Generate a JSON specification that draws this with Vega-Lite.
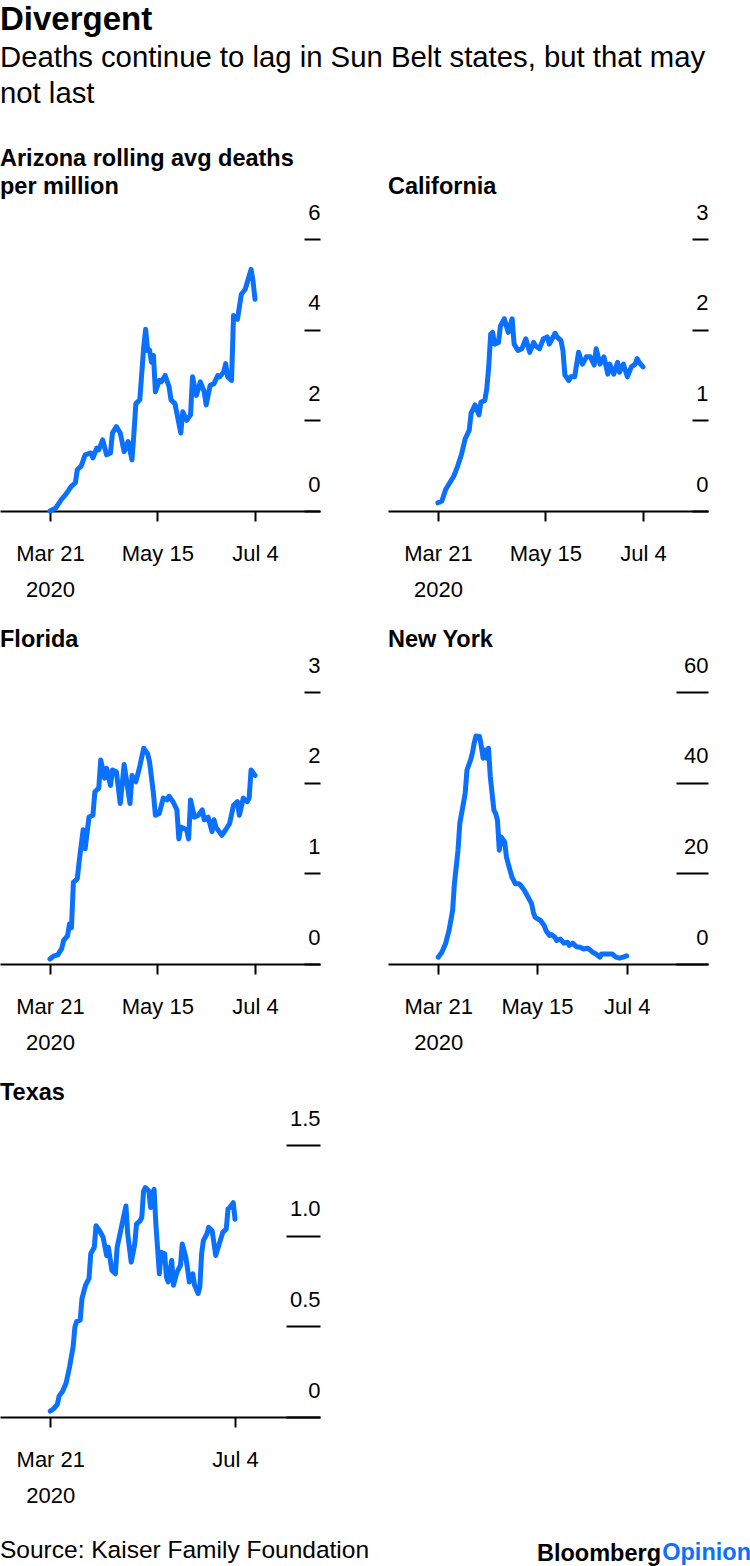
{
  "$schema": "https://vega.github.io/schema/vega-lite/v6.json",
  "padding": {"left": 0, "right": 0, "top": 4, "bottom": 4},
  "background": "white",
  "title": {
    "text": "Divergent",
    "subtitle": ["Deaths continue to lag in Sun Belt states, but that may", "not last"],
    "anchor": "start",
    "font": "Liberation Sans",
    "fontSize": 33,
    "fontWeight": "bold",
    "color": "#000",
    "subtitleFont": "Liberation Sans",
    "subtitleFontSize": 29.3,
    "subtitleColor": "#000",
    "subtitleLineHeight": 36,
    "subtitlePadding": 7,
    "offset": 37
  },
  "datasets": {
    "AZ": [
      {"d":"2020-03-21","v":0},{"d":"2020-03-24","v":0.07},{"d":"2020-03-27","v":0.26},{"d":"2020-03-29","v":0.36},
      {"d":"2020-04-01","v":0.55},{"d":"2020-04-03","v":0.62},{"d":"2020-04-04","v":0.91},{"d":"2020-04-06","v":0.99},
      {"d":"2020-04-08","v":1.24},{"d":"2020-04-11","v":1.28},{"d":"2020-04-12","v":1.17},{"d":"2020-04-14","v":1.39},
      {"d":"2020-04-15","v":1.35},{"d":"2020-04-17","v":1.57},{"d":"2020-04-19","v":1.24},{"d":"2020-04-21","v":1.28},
      {"d":"2020-04-22","v":1.72},{"d":"2020-04-24","v":1.86},{"d":"2020-04-26","v":1.72},{"d":"2020-04-28","v":1.31},
      {"d":"2020-04-30","v":1.53},{"d":"2020-05-02","v":1.13},{"d":"2020-05-03","v":1.72},{"d":"2020-05-04","v":2.37},
      {"d":"2020-05-06","v":2.45},{"d":"2020-05-08","v":3.61},{"d":"2020-05-09","v":4.01},{"d":"2020-05-10","v":3.54},
      {"d":"2020-05-11","v":3.55},{"d":"2020-05-12","v":3.28},{"d":"2020-05-13","v":3.43},{"d":"2020-05-14","v":2.63},
      {"d":"2020-05-16","v":2.88},{"d":"2020-05-17","v":2.85},{"d":"2020-05-19","v":2.99},{"d":"2020-05-21","v":2.74},
      {"d":"2020-05-22","v":2.45},{"d":"2020-05-24","v":2.37},{"d":"2020-05-27","v":1.72},{"d":"2020-05-28","v":2.19},
      {"d":"2020-05-30","v":2.0},{"d":"2020-06-01","v":2.12},{"d":"2020-06-02","v":2.96},{"d":"2020-06-04","v":2.55},
      {"d":"2020-06-06","v":2.85},{"d":"2020-06-08","v":2.63},{"d":"2020-06-09","v":2.34},{"d":"2020-06-11","v":2.77},
      {"d":"2020-06-13","v":2.81},{"d":"2020-06-15","v":2.99},{"d":"2020-06-16","v":2.96},{"d":"2020-06-18","v":3.07},
      {"d":"2020-06-19","v":3.25},{"d":"2020-06-20","v":2.96},{"d":"2020-06-22","v":2.88},{"d":"2020-06-23","v":4.31},
      {"d":"2020-06-25","v":4.23},{"d":"2020-06-27","v":4.78},{"d":"2020-06-29","v":4.89},{"d":"2020-07-02","v":5.33},
      {"d":"2020-07-03","v":5.07},{"d":"2020-07-04","v":4.67}
    ],
    "CA": [
      {"d":"2020-03-21","v":0.09},{"d":"2020-03-23","v":0.11},{"d":"2020-03-25","v":0.24},{"d":"2020-03-29","v":0.38},
      {"d":"2020-03-31","v":0.49},{"d":"2020-04-02","v":0.62},{"d":"2020-04-04","v":0.80},{"d":"2020-04-06","v":0.89},
      {"d":"2020-04-07","v":1.08},{"d":"2020-04-09","v":1.17},{"d":"2020-04-11","v":1.06},{"d":"2020-04-12","v":1.20},
      {"d":"2020-04-14","v":1.22},{"d":"2020-04-15","v":1.35},{"d":"2020-04-16","v":1.59},{"d":"2020-04-17","v":1.95},
      {"d":"2020-04-18","v":1.97},{"d":"2020-04-19","v":1.84},{"d":"2020-04-21","v":1.86},{"d":"2020-04-22","v":2.04},
      {"d":"2020-04-24","v":2.12},{"d":"2020-04-26","v":1.97},{"d":"2020-04-28","v":2.12},{"d":"2020-04-29","v":1.84},
      {"d":"2020-05-01","v":1.77},{"d":"2020-05-03","v":1.79},{"d":"2020-05-05","v":1.90},{"d":"2020-05-07","v":1.75},
      {"d":"2020-05-09","v":1.86},{"d":"2020-05-10","v":1.82},{"d":"2020-05-12","v":1.79},{"d":"2020-05-14","v":1.90},
      {"d":"2020-05-16","v":1.92},{"d":"2020-05-17","v":1.84},{"d":"2020-05-20","v":1.96},{"d":"2020-05-21","v":1.92},
      {"d":"2020-05-23","v":1.88},{"d":"2020-05-24","v":1.77},{"d":"2020-05-25","v":1.50},{"d":"2020-05-27","v":1.44},
      {"d":"2020-05-28","v":1.48},{"d":"2020-05-30","v":1.48},{"d":"2020-06-01","v":1.75},{"d":"2020-06-03","v":1.62},
      {"d":"2020-06-05","v":1.70},{"d":"2020-06-07","v":1.70},{"d":"2020-06-09","v":1.61},{"d":"2020-06-10","v":1.79},
      {"d":"2020-06-12","v":1.62},{"d":"2020-06-14","v":1.70},{"d":"2020-06-16","v":1.51},{"d":"2020-06-17","v":1.62},
      {"d":"2020-06-19","v":1.51},{"d":"2020-06-21","v":1.64},{"d":"2020-06-22","v":1.53},{"d":"2020-06-24","v":1.62},
      {"d":"2020-06-26","v":1.48},{"d":"2020-06-28","v":1.59},{"d":"2020-06-30","v":1.62},{"d":"2020-07-01","v":1.68},
      {"d":"2020-07-02","v":1.64},{"d":"2020-07-04","v":1.59}
    ],
    "FL": [
      {"d":"2020-03-21","v":0.055},{"d":"2020-03-23","v":0.09},{"d":"2020-03-25","v":0.10},{"d":"2020-03-27","v":0.17},
      {"d":"2020-03-28","v":0.26},{"d":"2020-03-30","v":0.31},{"d":"2020-03-31","v":0.44},{"d":"2020-04-01","v":0.40},
      {"d":"2020-04-02","v":0.90},{"d":"2020-04-04","v":0.94},{"d":"2020-04-05","v":1.14},{"d":"2020-04-07","v":1.48},
      {"d":"2020-04-08","v":1.27},{"d":"2020-04-10","v":1.62},{"d":"2020-04-12","v":1.64},{"d":"2020-04-13","v":1.90},
      {"d":"2020-04-15","v":1.94},{"d":"2020-04-16","v":2.25},{"d":"2020-04-18","v":2.05},{"d":"2020-04-19","v":2.16},
      {"d":"2020-04-21","v":1.97},{"d":"2020-04-22","v":2.14},{"d":"2020-04-24","v":2.12},{"d":"2020-04-26","v":1.77},
      {"d":"2020-04-28","v":2.20},{"d":"2020-05-01","v":1.77},{"d":"2020-05-02","v":2.08},{"d":"2020-05-04","v":2.01},
      {"d":"2020-05-06","v":2.18},{"d":"2020-05-08","v":2.38},{"d":"2020-05-10","v":2.32},{"d":"2020-05-11","v":2.23},
      {"d":"2020-05-13","v":1.88},{"d":"2020-05-14","v":1.64},{"d":"2020-05-16","v":1.66},{"d":"2020-05-18","v":1.83},
      {"d":"2020-05-20","v":1.81},{"d":"2020-05-21","v":1.85},{"d":"2020-05-23","v":1.79},{"d":"2020-05-25","v":1.70},
      {"d":"2020-05-26","v":1.38},{"d":"2020-05-27","v":1.51},{"d":"2020-05-30","v":1.48},{"d":"2020-05-31","v":1.38},
      {"d":"2020-06-01","v":1.81},{"d":"2020-06-03","v":1.62},{"d":"2020-06-05","v":1.64},{"d":"2020-06-07","v":1.70},
      {"d":"2020-06-08","v":1.59},{"d":"2020-06-10","v":1.62},{"d":"2020-06-12","v":1.46},{"d":"2020-06-13","v":1.59},
      {"d":"2020-06-14","v":1.51},{"d":"2020-06-17","v":1.42},{"d":"2020-06-19","v":1.48},{"d":"2020-06-21","v":1.55},
      {"d":"2020-06-23","v":1.75},{"d":"2020-06-25","v":1.79},{"d":"2020-06-26","v":1.64},{"d":"2020-06-28","v":1.83},
      {"d":"2020-06-30","v":1.79},{"d":"2020-07-01","v":1.83},{"d":"2020-07-02","v":2.14},{"d":"2020-07-04","v":2.08}
    ],
    "NY": [
      {"d":"2020-03-21","v":1.5},{"d":"2020-03-23","v":2.6},{"d":"2020-03-25","v":4.4},{"d":"2020-03-27","v":7.4},
      {"d":"2020-03-29","v":11.8},{"d":"2020-03-30","v":17.7},{"d":"2020-04-01","v":25.1},{"d":"2020-04-02","v":31.0},
      {"d":"2020-04-03","v":33.2},{"d":"2020-04-05","v":37.6},{"d":"2020-04-06","v":42.8},{"d":"2020-04-08","v":45.0},
      {"d":"2020-04-09","v":46.5},{"d":"2020-04-10","v":48.7},{"d":"2020-04-11","v":50.3},{"d":"2020-04-13","v":50.2},
      {"d":"2020-04-14","v":48.0},{"d":"2020-04-15","v":45.4},{"d":"2020-04-16","v":47.2},{"d":"2020-04-17","v":45.4},
      {"d":"2020-04-18","v":47.6},{"d":"2020-04-19","v":41.3},{"d":"2020-04-20","v":37.6},{"d":"2020-04-21","v":33.9},
      {"d":"2020-04-22","v":33.2},{"d":"2020-04-23","v":31.7},{"d":"2020-04-24","v":25.1},{"d":"2020-04-25","v":28.0},
      {"d":"2020-04-27","v":26.9},{"d":"2020-04-28","v":23.6},{"d":"2020-04-29","v":22.1},{"d":"2020-05-01","v":19.2},
      {"d":"2020-05-03","v":17.7},{"d":"2020-05-05","v":17.7},{"d":"2020-05-06","v":17.3},{"d":"2020-05-08","v":16.2},
      {"d":"2020-05-10","v":14.8},{"d":"2020-05-12","v":13.3},{"d":"2020-05-13","v":11.4},{"d":"2020-05-14","v":10.3},
      {"d":"2020-05-17","v":9.6},{"d":"2020-05-19","v":8.5},{"d":"2020-05-20","v":7.4},{"d":"2020-05-22","v":6.3},
      {"d":"2020-05-23","v":6.5},{"d":"2020-05-25","v":5.9},{"d":"2020-05-26","v":5.2},{"d":"2020-05-28","v":5.5},
      {"d":"2020-05-30","v":4.6},{"d":"2020-06-01","v":4.8},{"d":"2020-06-02","v":4.1},{"d":"2020-06-04","v":4.6},
      {"d":"2020-06-06","v":3.8},{"d":"2020-06-08","v":3.7},{"d":"2020-06-10","v":3.3},{"d":"2020-06-12","v":3.5},
      {"d":"2020-06-14","v":3.0},{"d":"2020-06-15","v":2.6},{"d":"2020-06-17","v":2.2},{"d":"2020-06-19","v":1.5},
      {"d":"2020-06-20","v":2.2},{"d":"2020-06-23","v":2.2},{"d":"2020-06-26","v":2.2},{"d":"2020-06-28","v":1.5},
      {"d":"2020-06-30","v":1.3},{"d":"2020-07-02","v":1.5},{"d":"2020-07-04","v":1.8}
    ],
    "TX": [
      {"d":"2020-03-21","v":0.033},{"d":"2020-03-23","v":0.046},{"d":"2020-03-25","v":0.069},{"d":"2020-03-26","v":0.115},
      {"d":"2020-03-28","v":0.142},{"d":"2020-03-30","v":0.188},{"d":"2020-04-01","v":0.279},{"d":"2020-04-03","v":0.389},
      {"d":"2020-04-04","v":0.498},{"d":"2020-04-05","v":0.526},{"d":"2020-04-07","v":0.535},{"d":"2020-04-08","v":0.653},
      {"d":"2020-04-10","v":0.726},{"d":"2020-04-11","v":0.745},{"d":"2020-04-12","v":0.763},{"d":"2020-04-13","v":0.9},
      {"d":"2020-04-15","v":0.936},{"d":"2020-04-16","v":1.055},{"d":"2020-04-18","v":1.027},{"d":"2020-04-20","v":0.991},
      {"d":"2020-04-22","v":0.891},{"d":"2020-04-23","v":0.936},{"d":"2020-04-25","v":0.808},{"d":"2020-04-27","v":0.790},
      {"d":"2020-04-28","v":0.936},{"d":"2020-04-30","v":1.027},{"d":"2020-05-02","v":1.119},{"d":"2020-05-03","v":1.164},
      {"d":"2020-05-04","v":1.009},{"d":"2020-05-06","v":0.854},{"d":"2020-05-08","v":0.954},{"d":"2020-05-09","v":1.064},
      {"d":"2020-05-11","v":1.082},{"d":"2020-05-12","v":1.100},{"d":"2020-05-13","v":1.246},{"d":"2020-05-14","v":1.265},
      {"d":"2020-05-16","v":1.246},{"d":"2020-05-17","v":1.155},{"d":"2020-05-18","v":1.228},{"d":"2020-05-19","v":1.255},
      {"d":"2020-05-20","v":1.064},{"d":"2020-05-22","v":0.790},{"d":"2020-05-23","v":0.909},{"d":"2020-05-25","v":0.9},
      {"d":"2020-05-26","v":0.772},{"d":"2020-05-27","v":0.745},{"d":"2020-05-29","v":0.863},{"d":"2020-05-30","v":0.726},
      {"d":"2020-06-01","v":0.799},{"d":"2020-06-03","v":0.836},{"d":"2020-06-04","v":0.954},{"d":"2020-06-06","v":0.881},
      {"d":"2020-06-07","v":0.818},{"d":"2020-06-08","v":0.745},{"d":"2020-06-10","v":0.790},{"d":"2020-06-11","v":0.726},
      {"d":"2020-06-13","v":0.681},{"d":"2020-06-14","v":0.717},{"d":"2020-06-15","v":0.9},{"d":"2020-06-16","v":0.973},
      {"d":"2020-06-18","v":1.009},{"d":"2020-06-19","v":1.046},{"d":"2020-06-21","v":1.027},{"d":"2020-06-23","v":0.891},
      {"d":"2020-06-25","v":0.954},{"d":"2020-06-27","v":1.018},{"d":"2020-06-29","v":1.036},{"d":"2020-06-30","v":1.146},
      {"d":"2020-07-01","v":1.155},{"d":"2020-07-03","v":1.182},{"d":"2020-07-04","v":1.091}
    ]
  },
  "vconcat": [
    {
      "title": {"text": "Opinion", "orient": "bottom", "anchor": "end", "color": "#0a70ff", "fontSize": 23.5, "fontWeight": "bold", "offset": 0, "dx": 42, "dy": -24},
      "vconcat": [
        {
          "title": {"text": "Bloomberg", "orient": "bottom", "anchor": "end", "color": "#000", "fontSize": 23.5, "fontWeight": "bold", "offset": 0, "dx": -48, "dy": -21},
          "vconcat": [
            {
              "title": {"text": "Source: Kaiser Family Foundation", "orient": "bottom", "anchor": "start", "color": "#000", "fontSize": 24.5, "fontWeight": "normal", "offset": 33},
              "columns": 2,
              "bounds": "flush",
              "spacing": {"row": 181, "column": 68},
              "concat": [
                {
                  "title": {"text": ["Arizona rolling avg deaths", "per million"]},
                  "width": 320, "height": 272,
                  "data": {"name": "AZ"},
                  "mark": {"type": "line", "color": "#0a70ff", "strokeWidth": 5, "strokeCap": "round", "strokeJoin": "round"},
                  "encoding": {
                    "x": {"field": "d", "type": "temporal", "scale": {"type": "utc", "domain": [{"year": 2020, "month": "feb", "date": 24, "hours": 10, "utc": true}, {"year": 2020, "month": "aug", "date": 6, "hours": 7, "utc": true}]},
                      "axis": {"title": null, "values": [{"year": 2020, "month": "mar", "date": 21, "utc": true}, {"year": 2020, "month": "may", "date": 15, "utc": true}, {"year": 2020, "month": "jul", "date": 4, "utc": true}],
                        "labelExpr": "utcmonth(datum.value) == 2 && utcdate(datum.value) == 21 ? [utcFormat(datum.value, '%b %-d'), '2020'] : utcFormat(datum.value, '%b %-d')"}},
                    "y": {"field": "v", "type": "quantitative", "scale": {"domain": [0, 6], "nice": false},
                      "axis": {"title": null, "orient": "right", "values": [0, 2, 4, 6], "offset": -16, "tickSize": 16}}
                  }
                },
                {
                  "title": {"text": "California"},
                  "width": 320, "height": 272,
                  "data": {"name": "CA"},
                  "mark": {"type": "line", "color": "#0a70ff", "strokeWidth": 5, "strokeCap": "round", "strokeJoin": "round"},
                  "encoding": {
                    "x": {"field": "d", "type": "temporal", "scale": {"type": "utc", "domain": [{"year": 2020, "month": "feb", "date": 24, "hours": 10, "utc": true}, {"year": 2020, "month": "aug", "date": 6, "hours": 7, "utc": true}]},
                      "axis": {"title": null, "values": [{"year": 2020, "month": "mar", "date": 21, "utc": true}, {"year": 2020, "month": "may", "date": 15, "utc": true}, {"year": 2020, "month": "jul", "date": 4, "utc": true}],
                        "labelExpr": "utcmonth(datum.value) == 2 && utcdate(datum.value) == 21 ? [utcFormat(datum.value, '%b %-d'), '2020'] : utcFormat(datum.value, '%b %-d')"}},
                    "y": {"field": "v", "type": "quantitative", "scale": {"domain": [0, 3], "nice": false},
                      "axis": {"title": null, "orient": "right", "values": [0, 1, 2, 3], "offset": -16, "tickSize": 16}}
                  }
                },
                {
                  "title": {"text": "Florida"},
                  "width": 320, "height": 272,
                  "data": {"name": "FL"},
                  "mark": {"type": "line", "color": "#0a70ff", "strokeWidth": 5, "strokeCap": "round", "strokeJoin": "round"},
                  "encoding": {
                    "x": {"field": "d", "type": "temporal", "scale": {"type": "utc", "domain": [{"year": 2020, "month": "feb", "date": 24, "hours": 10, "utc": true}, {"year": 2020, "month": "aug", "date": 6, "hours": 7, "utc": true}]},
                      "axis": {"title": null, "values": [{"year": 2020, "month": "mar", "date": 21, "utc": true}, {"year": 2020, "month": "may", "date": 15, "utc": true}, {"year": 2020, "month": "jul", "date": 4, "utc": true}],
                        "labelExpr": "utcmonth(datum.value) == 2 && utcdate(datum.value) == 21 ? [utcFormat(datum.value, '%b %-d'), '2020'] : utcFormat(datum.value, '%b %-d')"}},
                    "y": {"field": "v", "type": "quantitative", "scale": {"domain": [0, 3], "nice": false},
                      "axis": {"title": null, "orient": "right", "values": [0, 1, 2, 3], "offset": -16, "tickSize": 16}}
                  }
                },
                {
                  "title": {"text": "New York"},
                  "width": 320, "height": 272,
                  "data": {"name": "NY"},
                  "mark": {"type": "line", "color": "#0a70ff", "strokeWidth": 5, "strokeCap": "round", "strokeJoin": "round"},
                  "encoding": {
                    "x": {"field": "d", "type": "temporal", "scale": {"type": "utc", "domain": [{"year": 2020, "month": "feb", "date": 22, "hours": 0, "utc": true}, {"year": 2020, "month": "aug", "date": 18, "hours": 7, "utc": true}]},
                      "axis": {"title": null, "values": [{"year": 2020, "month": "mar", "date": 21, "utc": true}, {"year": 2020, "month": "may", "date": 15, "utc": true}, {"year": 2020, "month": "jul", "date": 4, "utc": true}],
                        "labelExpr": "utcmonth(datum.value) == 2 && utcdate(datum.value) == 21 ? [utcFormat(datum.value, '%b %-d'), '2020'] : utcFormat(datum.value, '%b %-d')"}},
                    "y": {"field": "v", "type": "quantitative", "scale": {"domain": [0, 60], "nice": false},
                      "axis": {"title": null, "orient": "right", "values": [0, 20, 40, 60], "offset": -32, "tickSize": 32}}
                  }
                },
                {
                  "title": {"text": "Texas"},
                  "width": 320, "height": 272,
                  "data": {"name": "TX"},
                  "mark": {"type": "line", "color": "#0a70ff", "strokeWidth": 5, "strokeCap": "round", "strokeJoin": "round"},
                  "encoding": {
                    "x": {"field": "d", "type": "temporal", "scale": {"type": "utc", "domain": [{"year": 2020, "month": "feb", "date": 21, "hours": 10, "utc": true}, {"year": 2020, "month": "aug", "date": 21, "hours": 7, "utc": true}]},
                      "axis": {"title": null, "values": [{"year": 2020, "month": "mar", "date": 21, "utc": true}, {"year": 2020, "month": "jul", "date": 4, "utc": true}],
                        "labelExpr": "utcmonth(datum.value) == 2 && utcdate(datum.value) == 21 ? [utcFormat(datum.value, '%b %-d'), '2020'] : utcFormat(datum.value, '%b %-d')"}},
                    "y": {"field": "v", "type": "quantitative", "scale": {"domain": [0, 1.5], "nice": false},
                      "axis": {"title": null, "orient": "right", "values": [0, 0.5, 1, 1.5], "offset": -34, "tickSize": 34,
                        "labelExpr": "datum.value == 0 ? '0' : format(datum.value, '.1f')"}}
                  }
                }
              ]
            }
          ]
        }
      ]
    }
  ],
  "config": {
    "view": {"stroke": null},
    "font": "Liberation Sans",
    "axis": {"grid": false, "labelFont": "Liberation Sans", "labelFontSize": 22, "labelColor": "#000", "tickColor": "#000", "tickWidth": 2, "domainColor": "#000", "domainWidth": 2},
    "axisX": {"tickSize": 10, "labelPadding": 22, "labelLineHeight": 36, "labelBaseline": "top", "labelFlush": false, "labelOverlap": false},
    "axisY": {"domain": false, "labelAlign": "right", "labelPadding": 0, "labelBaseline": "alphabetic", "labelOffset": -20, "labelOverlap": false, "labelBound": false},
    "title": {"font": "Liberation Sans", "fontSize": 23.5, "fontWeight": "bold", "color": "#000", "anchor": "start", "lineHeight": 28, "offset": 3}
  }
}
